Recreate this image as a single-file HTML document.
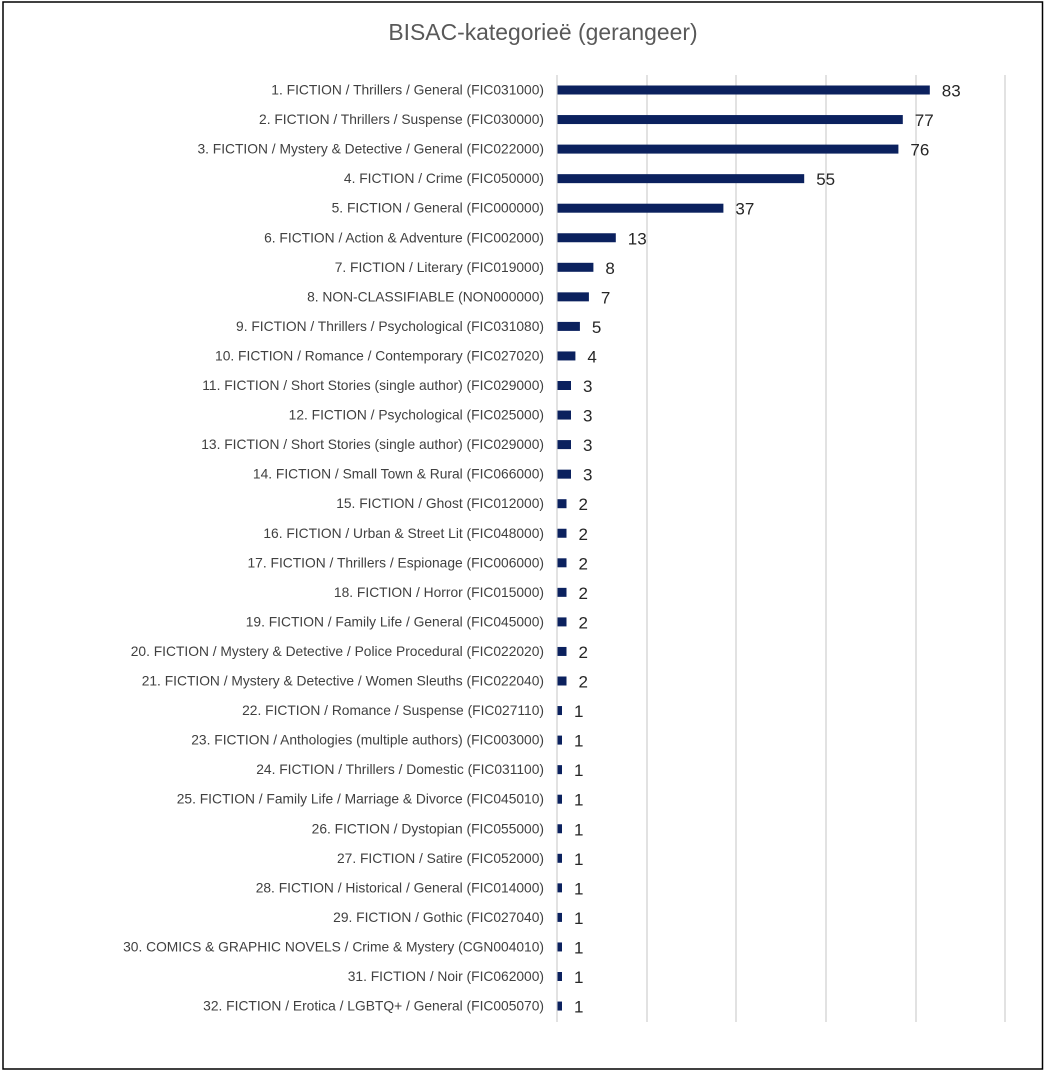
<!DOCTYPE html>
<html><head><meta charset="utf-8"><style>
html,body{margin:0;padding:0;background:#fff;}
svg{display:block;}
.l{font-size:13.8px;fill:#404040;text-anchor:end;}
.v{font-size:17px;fill:#262626;}
</style></head><body>
<svg width="1049" height="1076" xmlns="http://www.w3.org/2000/svg" font-family="Liberation Sans, Arial, sans-serif">
<rect x="3" y="2" width="1039.5" height="1067" fill="#fff" stroke="#000" stroke-width="1.5"/>
<text x="543" y="40" text-anchor="middle" font-size="22.9" fill="#595959">BISAC-kategorieë (gerangeer)</text>
<g stroke="#d9d9d9" stroke-width="1.5">
<line x1="557" y1="75" x2="557" y2="1022"/>
<line x1="647" y1="75" x2="647" y2="1022"/>
<line x1="736" y1="75" x2="736" y2="1022"/>
<line x1="826" y1="75" x2="826" y2="1022"/>
<line x1="916" y1="75" x2="916" y2="1022"/>
<line x1="1005" y1="75" x2="1005" y2="1022"/>
</g>
<g fill="#0b215e">
<g transform="translate(0,90)"><text class="l" x="544" y="4.5">1. FICTION / Thrillers / General (FIC031000)</text><rect x="557.5" y="-4.5" width="372.3" height="9"/><text class="v" x="941.8" y="6.5">83</text></g>
<g transform="translate(0,119.55)"><text class="l" x="544" y="4.5">2. FICTION / Thrillers / Suspense (FIC030000)</text><rect x="557.5" y="-4.5" width="345.3" height="9"/><text class="v" x="914.8" y="6.5">77</text></g>
<g transform="translate(0,149.1)"><text class="l" x="544" y="4.5">3. FICTION / Mystery &amp; Detective / General (FIC022000)</text><rect x="557.5" y="-4.5" width="340.9" height="9"/><text class="v" x="910.4" y="6.5">76</text></g>
<g transform="translate(0,178.65)"><text class="l" x="544" y="4.5">4. FICTION / Crime (FIC050000)</text><rect x="557.5" y="-4.5" width="246.7" height="9"/><text class="v" x="816.2" y="6.5">55</text></g>
<g transform="translate(0,208.2)"><text class="l" x="544" y="4.5">5. FICTION / General (FIC000000)</text><rect x="557.5" y="-4.5" width="165.9" height="9"/><text class="v" x="735.4" y="6.5">37</text></g>
<g transform="translate(0,237.75)"><text class="l" x="544" y="4.5">6. FICTION / Action &amp; Adventure (FIC002000)</text><rect x="557.5" y="-4.5" width="58.3" height="9"/><text class="v" x="627.8" y="6.5">13</text></g>
<g transform="translate(0,267.3)"><text class="l" x="544" y="4.5">7. FICTION / Literary (FIC019000)</text><rect x="557.5" y="-4.5" width="35.9" height="9"/><text class="v" x="605.4" y="6.5">8</text></g>
<g transform="translate(0,296.85)"><text class="l" x="544" y="4.5">8. NON-CLASSIFIABLE (NON000000)</text><rect x="557.5" y="-4.5" width="31.4" height="9"/><text class="v" x="600.9" y="6.5">7</text></g>
<g transform="translate(0,326.4)"><text class="l" x="544" y="4.5">9. FICTION / Thrillers / Psychological (FIC031080)</text><rect x="557.5" y="-4.5" width="22.4" height="9"/><text class="v" x="591.9" y="6.5">5</text></g>
<g transform="translate(0,355.95)"><text class="l" x="544" y="4.5">10. FICTION / Romance / Contemporary (FIC027020)</text><rect x="557.5" y="-4.5" width="17.9" height="9"/><text class="v" x="587.4" y="6.5">4</text></g>
<g transform="translate(0,385.5)"><text class="l" x="544" y="4.5">11. FICTION / Short Stories (single author) (FIC029000)</text><rect x="557.5" y="-4.5" width="13.5" height="9"/><text class="v" x="583" y="6.5">3</text></g>
<g transform="translate(0,415.05)"><text class="l" x="544" y="4.5">12. FICTION / Psychological (FIC025000)</text><rect x="557.5" y="-4.5" width="13.5" height="9"/><text class="v" x="583" y="6.5">3</text></g>
<g transform="translate(0,444.6)"><text class="l" x="544" y="4.5">13. FICTION / Short Stories (single author) (FIC029000)</text><rect x="557.5" y="-4.5" width="13.5" height="9"/><text class="v" x="583" y="6.5">3</text></g>
<g transform="translate(0,474.15)"><text class="l" x="544" y="4.5">14. FICTION / Small Town &amp; Rural (FIC066000)</text><rect x="557.5" y="-4.5" width="13.5" height="9"/><text class="v" x="583" y="6.5">3</text></g>
<g transform="translate(0,503.7)"><text class="l" x="544" y="4.5">15. FICTION / Ghost (FIC012000)</text><rect x="557.5" y="-4.5" width="9" height="9"/><text class="v" x="578.5" y="6.5">2</text></g>
<g transform="translate(0,533.25)"><text class="l" x="544" y="4.5">16. FICTION / Urban &amp; Street Lit (FIC048000)</text><rect x="557.5" y="-4.5" width="9" height="9"/><text class="v" x="578.5" y="6.5">2</text></g>
<g transform="translate(0,562.8)"><text class="l" x="544" y="4.5">17. FICTION / Thrillers / Espionage (FIC006000)</text><rect x="557.5" y="-4.5" width="9" height="9"/><text class="v" x="578.5" y="6.5">2</text></g>
<g transform="translate(0,592.35)"><text class="l" x="544" y="4.5">18. FICTION / Horror (FIC015000)</text><rect x="557.5" y="-4.5" width="9" height="9"/><text class="v" x="578.5" y="6.5">2</text></g>
<g transform="translate(0,621.9)"><text class="l" x="544" y="4.5">19. FICTION / Family Life / General (FIC045000)</text><rect x="557.5" y="-4.5" width="9" height="9"/><text class="v" x="578.5" y="6.5">2</text></g>
<g transform="translate(0,651.45)"><text class="l" x="544" y="4.5">20. FICTION / Mystery &amp; Detective / Police Procedural (FIC022020)</text><rect x="557.5" y="-4.5" width="9" height="9"/><text class="v" x="578.5" y="6.5">2</text></g>
<g transform="translate(0,681)"><text class="l" x="544" y="4.5">21. FICTION / Mystery &amp; Detective / Women Sleuths (FIC022040)</text><rect x="557.5" y="-4.5" width="9" height="9"/><text class="v" x="578.5" y="6.5">2</text></g>
<g transform="translate(0,710.55)"><text class="l" x="544" y="4.5">22. FICTION / Romance / Suspense (FIC027110)</text><rect x="557.5" y="-4.5" width="4.5" height="9"/><text class="v" x="574" y="6.5">1</text></g>
<g transform="translate(0,740.1)"><text class="l" x="544" y="4.5">23. FICTION / Anthologies (multiple authors) (FIC003000)</text><rect x="557.5" y="-4.5" width="4.5" height="9"/><text class="v" x="574" y="6.5">1</text></g>
<g transform="translate(0,769.65)"><text class="l" x="544" y="4.5">24. FICTION / Thrillers / Domestic (FIC031100)</text><rect x="557.5" y="-4.5" width="4.5" height="9"/><text class="v" x="574" y="6.5">1</text></g>
<g transform="translate(0,799.2)"><text class="l" x="544" y="4.5">25. FICTION / Family Life / Marriage &amp; Divorce (FIC045010)</text><rect x="557.5" y="-4.5" width="4.5" height="9"/><text class="v" x="574" y="6.5">1</text></g>
<g transform="translate(0,828.75)"><text class="l" x="544" y="4.5">26. FICTION / Dystopian (FIC055000)</text><rect x="557.5" y="-4.5" width="4.5" height="9"/><text class="v" x="574" y="6.5">1</text></g>
<g transform="translate(0,858.3)"><text class="l" x="544" y="4.5">27. FICTION / Satire (FIC052000)</text><rect x="557.5" y="-4.5" width="4.5" height="9"/><text class="v" x="574" y="6.5">1</text></g>
<g transform="translate(0,887.85)"><text class="l" x="544" y="4.5">28. FICTION / Historical / General (FIC014000)</text><rect x="557.5" y="-4.5" width="4.5" height="9"/><text class="v" x="574" y="6.5">1</text></g>
<g transform="translate(0,917.4)"><text class="l" x="544" y="4.5">29. FICTION / Gothic (FIC027040)</text><rect x="557.5" y="-4.5" width="4.5" height="9"/><text class="v" x="574" y="6.5">1</text></g>
<g transform="translate(0,946.95)"><text class="l" x="544" y="4.5">30. COMICS &amp; GRAPHIC NOVELS / Crime &amp; Mystery (CGN004010)</text><rect x="557.5" y="-4.5" width="4.5" height="9"/><text class="v" x="574" y="6.5">1</text></g>
<g transform="translate(0,976.5)"><text class="l" x="544" y="4.5">31. FICTION / Noir (FIC062000)</text><rect x="557.5" y="-4.5" width="4.5" height="9"/><text class="v" x="574" y="6.5">1</text></g>
<g transform="translate(0,1006.05)"><text class="l" x="544" y="4.5">32. FICTION / Erotica / LGBTQ+ / General (FIC005070)</text><rect x="557.5" y="-4.5" width="4.5" height="9"/><text class="v" x="574" y="6.5">1</text></g>
</g>
</svg>
</body></html>
